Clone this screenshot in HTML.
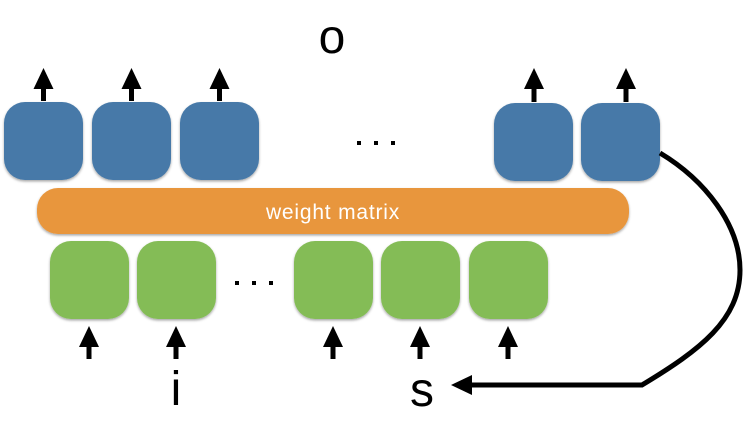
<!DOCTYPE html>
<html><head><meta charset="utf-8"><style>
html,body{margin:0;padding:0;background:#fff;}
svg{display:block;}
</style></head><body>
<svg width="744" height="422" viewBox="0 0 744 422" xmlns="http://www.w3.org/2000/svg">
<defs>
<filter id="sh" x="-10%" y="-10%" width="120%" height="125%">
<feDropShadow dx="0" dy="1.5" stdDeviation="1.2" flood-color="#000" flood-opacity="0.35"/>
</filter>
</defs>
<!-- label o -->
<text x="332" y="53" font-family="Liberation Sans, sans-serif" font-size="48" text-anchor="middle" fill="#000">o</text>
<!-- top arrows -->
<g fill="#000">
<polygon points="33.5,89 43.5,68 53.5,89"/><rect x="41" y="88" width="5" height="13"/>
<polygon points="121.5,89 131.5,68 141.5,89"/><rect x="129" y="88" width="5" height="13"/>
<polygon points="209.5,89 219.5,68 229.5,89"/><rect x="217" y="88" width="5" height="13"/>
<polygon points="524,89 534,68 544,89"/><rect x="531.5" y="88" width="5" height="14"/>
<polygon points="616,89 626,68 636,89"/><rect x="623.5" y="88" width="5" height="14"/>
</g>
<!-- blue boxes -->
<g fill="#4679a8" filter="url(#sh)">
<rect x="4" y="102" width="79" height="78" rx="21"/>
<rect x="92" y="102" width="79" height="78" rx="21"/>
<rect x="180" y="102" width="79" height="78" rx="21"/>
<rect x="494" y="103" width="79" height="78" rx="21"/>
<rect x="581" y="103" width="79" height="78" rx="21"/>
</g>
<!-- dots top -->
<g fill="#000">
<rect x="357" y="141" width="4" height="4"/>
<rect x="374" y="141" width="4" height="4"/>
<rect x="391" y="141" width="4" height="4"/>
</g>
<!-- orange bar -->
<rect x="37" y="188" width="592" height="46" rx="21" fill="#e8963c" filter="url(#sh)"/>
<text x="333" y="219" font-family="Liberation Sans, sans-serif" font-size="21" letter-spacing="0.8" text-anchor="middle" fill="#fff">weight matrix</text>
<!-- green boxes -->
<g fill="#84bc57" filter="url(#sh)">
<rect x="50" y="241" width="79" height="78" rx="21"/>
<rect x="137" y="241" width="79" height="78" rx="21"/>
<rect x="294" y="241" width="79" height="78" rx="21"/>
<rect x="381" y="241" width="79" height="78" rx="21"/>
<rect x="469" y="241" width="79" height="78" rx="21"/>
</g>
<!-- dots bottom -->
<g fill="#000">
<rect x="235" y="281" width="4" height="4"/>
<rect x="252" y="281" width="4" height="4"/>
<rect x="269" y="281" width="4" height="4"/>
</g>
<!-- bottom arrows -->
<g fill="#000">
<polygon points="79,347 89,326 99,347"/><rect x="86.5" y="346" width="5" height="13"/>
<polygon points="166,347 176,326 186,347"/><rect x="173.5" y="346" width="5" height="13"/>
<polygon points="323,347 333,326 343,347"/><rect x="330.5" y="346" width="5" height="13"/>
<polygon points="410,347 420,326 430,347"/><rect x="417.5" y="346" width="5" height="13"/>
<polygon points="498,347 508,326 518,347"/><rect x="505.5" y="346" width="5" height="13"/>
</g>
<!-- labels -->
<text x="176" y="405" font-family="Liberation Sans, sans-serif" font-size="48" text-anchor="middle" fill="#000">i</text>
<text x="422" y="406" font-family="Liberation Sans, sans-serif" font-size="48" text-anchor="middle" fill="#000">s</text>
<!-- recurrent curve -->
<path d="M 660 153 C 705 180, 740 225, 740 270 C 740 320, 700 350, 642 385 L 470 385" fill="none" stroke="#000" stroke-width="5"/>
<polygon points="451,385 472,375 472,395" fill="#000"/>
</svg>
</body></html>
